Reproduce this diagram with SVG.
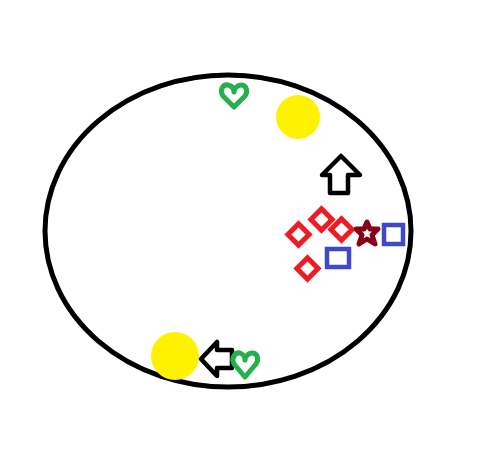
<svg xmlns="http://www.w3.org/2000/svg" width="480" height="472" viewBox="0 0 480 472">
<defs>
<style>
.o{fill:none;stroke:#000;stroke-width:5}
.h{fill:none;stroke:#22b14c;stroke-width:5;stroke-linejoin:round}
.y{fill:#fff200}
.ar{fill:none;stroke:#000;stroke-width:4.5;stroke-linejoin:round}
.d{fill:none;stroke:#ed1c24;stroke-width:5}
.s{fill:none;stroke:#3f48cc;stroke-width:4.5}
.st{fill:none;stroke:#880015;stroke-width:5;stroke-linejoin:round}
</style>
</defs>
<rect width="480" height="472" fill="#fff"/>
<g id="outline"><ellipse class="o" cx="228" cy="231" rx="183" ry="156"/></g>
<g id="heart1"><path class="h" d="M234 107 L223 96 C219 90 223 84 228 85 C232 86 234 89 234 92 C234 89 237 85 241 85 C247 85 248 92 245 96 Z"/></g>
<g id="sun1"><circle class="y" cx="298" cy="117" r="22"/></g>
<g id="arrowUp"><path class="ar" d="M341 156 L360 175 L348 175 L348 193 L330 193 L330 175 L322 175 Z"/></g>
<g id="diamond1"><rect class="d" x="291" y="227" width="15" height="15" transform="rotate(45 298.5 234.5)"/></g>
<g id="diamond2"><rect class="d" x="314" y="212" width="15" height="15" transform="rotate(45 321.5 219.5)"/></g>
<g id="diamond3"><rect class="d" x="334" y="222" width="15" height="15" transform="rotate(45 341.5 229.5)"/></g>
<g id="diamond4"><rect class="d" x="300" y="261" width="15" height="15" transform="rotate(45 307.5 268.5)"/></g>
<g id="star"><path class="st" d="M367 222 L370 229 L378 229 L372 235 L375 244 L367 239 L359 244 L362 235 L356 229 L364 229 Z"/></g>
<g id="square1"><rect class="s" x="384" y="225" width="19" height="19"/></g>
<g id="square2"><rect class="s" x="327" y="249" width="22" height="18"/></g>
<g id="sun2"><circle class="y" cx="175" cy="356" r="24"/></g>
<g id="arrowLeft"><path class="ar" d="M201 359 L217 342 L217 350 L232 350 L232 368 L217 368 L217 376 Z"/></g>
<g id="heart2"><path class="h" d="M245 377 L234 364 C231 358 235 352 240 353 C243 354 245 357 245 360 C245 357 248 353 252 353 C258 353 259 360 256 364 Z"/></g>
</svg>
